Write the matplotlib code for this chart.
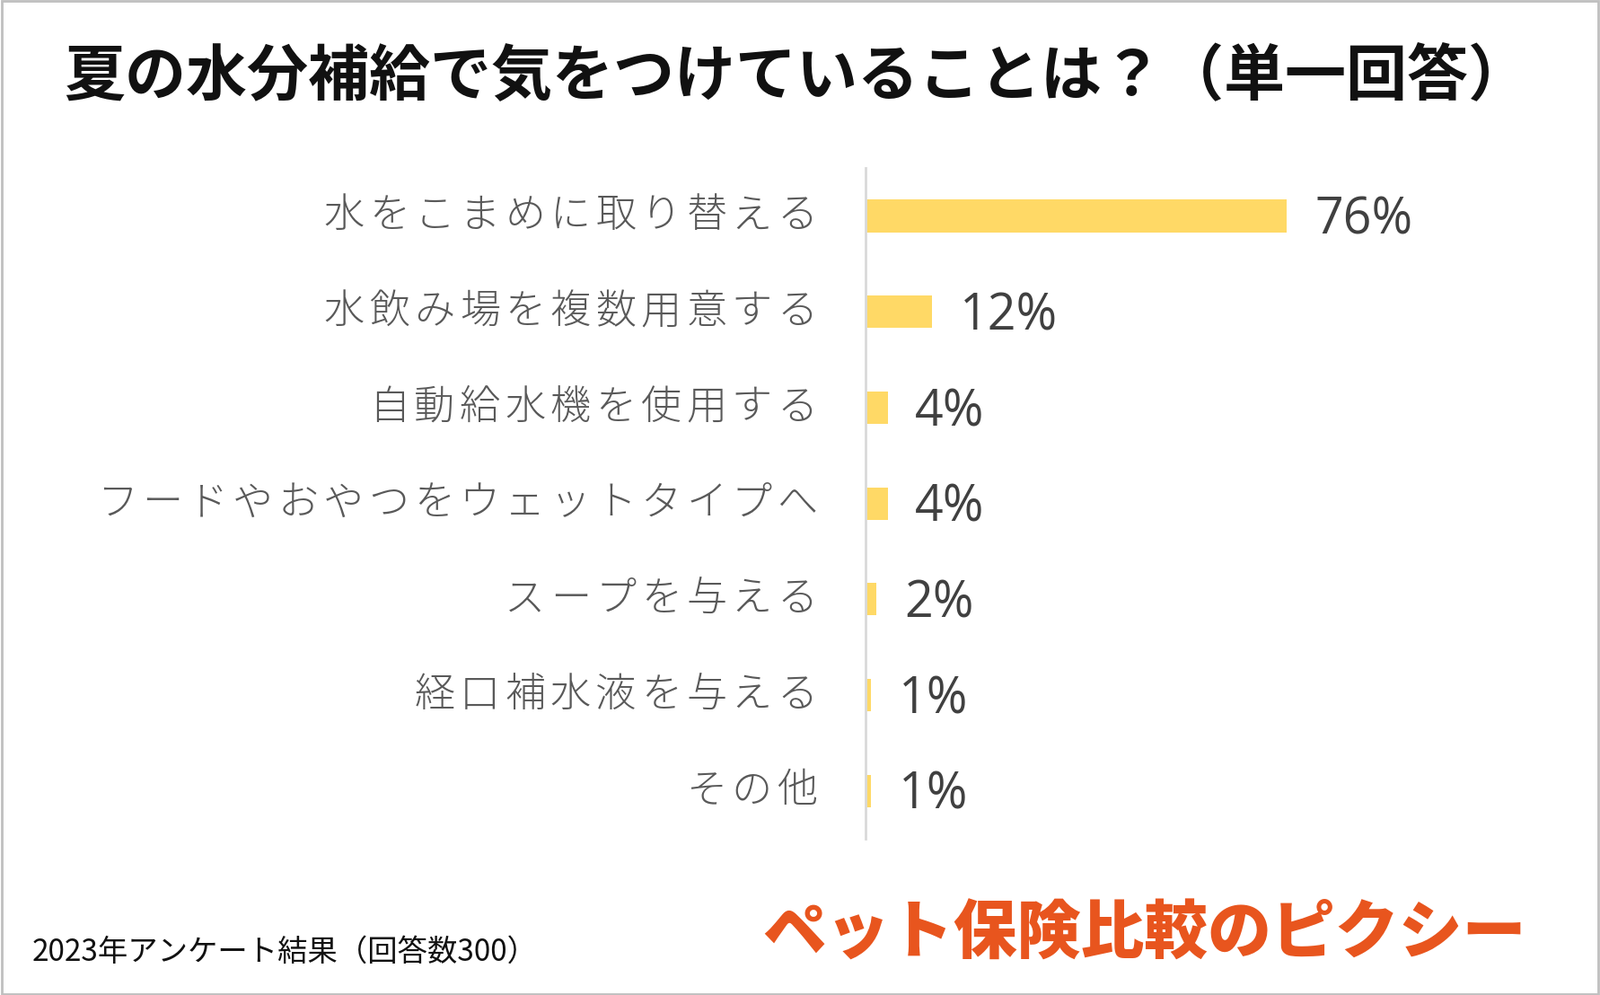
import matplotlib
matplotlib.use("Agg")
import matplotlib.pyplot as plt
from matplotlib.patches import Rectangle

categories = ["水をこまめに取り替える", "水飲み場を複数用意する", "自動給水機を使用する",
              "フードやおやつをウェットタイプへ", "スープを与える", "経口補水液を与える", "その他"]
values = [76, 12, 4, 4, 2, 1, 1]
labels = ["76%", "12%", "4%", "4%", "2%", "1%", "1%"]

plt.rcParams["font.family"] = "Noto Sans CJK JP"
W, H = 1782, 1108
fig = plt.figure(figsize=(W / 100, H / 100), dpi=100)
fig.patches.append(Rectangle((0.001, 0.001), 0.998, 0.998, transform=fig.transFigure,
                             fill=False, edgecolor="#BFBFBF", linewidth=2))

ax_left, ax_w = 0.541, 0.409
ax = fig.add_axes([ax_left, 0.157, ax_w, 0.674])
n = len(categories)
ypos = list(range(n))
ax.barh(ypos, values, height=0.34, color="#FFD966")
ax.set_ylim(n - 0.5, -0.5)
ax.set_xlim(0, 118)
ax.set_yticks([])
ax.set_xticks([])
for s in ["top", "right", "bottom"]:
    ax.spines[s].set_visible(False)
ax.spines["left"].set_color("#D9D9D9")
ax.spines["left"].set_linewidth(2)

# category labels, drawn with wide, even character spacing
right_px = 913
adv = 50.5
axes_px = ax_w * W
left_px = ax_left * W
tr = ax.get_yaxis_transform()
for y, cat in zip(ypos, categories):
    for k, ch in enumerate(reversed(cat)):
        xp = right_px - (k + 0.5) * adv
        ax.text((xp - left_px) / axes_px, y, ch, transform=tr, ha="center", va="center",
                fontsize=32.5, color="#595959", fontweight="light", clip_on=False)

for y, v, l in zip(ypos, values, labels):
    ax.annotate(l, (v, y), xytext=(22, -4), textcoords="offset points",
                va="center", ha="left", fontsize=40, color="#404040",
                family="Open Sans")

fig.text(0.498, 0.923, "夏の水分補給で気をつけていることは？（単一回答）",
         ha="center", va="center", fontsize=49, fontweight="bold", color="#111111")
fig.text(0.02, 0.043, "2023年アンケート結果（回答数300）", ha="left", va="center",
         fontsize=24, color="#111111")
fig.text(0.715, 0.06, "ペット保険比較のピクシー", ha="center", va="center",
         fontsize=51, fontweight="black", color="#E8551E", style="italic")

fig.savefig("out.png", dpi=100)
